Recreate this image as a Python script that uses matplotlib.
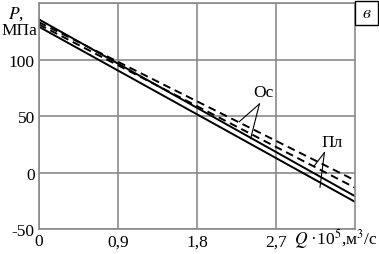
import matplotlib
matplotlib.use("Agg")
import matplotlib.pyplot as plt
from matplotlib.patches import Rectangle

# расход Q*10^5, м3/с  и давление P, МПа
q = [0.0, 3.6]
p_os_dash = [133.0, -7.0]
p_pl_dash = [131.0, -13.5]
p_os_solid = [135.5, -21.0]
p_pl_solid = [129.0, -26.0]

x_ticks = [0, 0.9, 1.8, 2.7]
x_tick_labels = ["0", "0,9", "1,8", "2,7"]
y_ticks = [-50, 0, 50, 100, 150]
y_tick_labels = ["-50", "0", "50", "100", ""]

plt.rcParams["font.family"] = ["Liberation Serif", "DejaVu Serif"]
plt.rcParams["mathtext.fontset"] = "stix"

fig = plt.figure(figsize=(3.79, 2.55), dpi=100)
ax = fig.add_axes([0.103, 0.098, 0.834, 0.886])

grid_col = "#8a8a8a"
fs = 12.5
ax.set_xlim(0, 3.6)
ax.set_ylim(-50, 150)
ax.set_xticks(x_ticks)
ax.set_xticklabels(x_tick_labels)
ax.set_yticks(y_ticks)
ax.set_yticklabels(y_tick_labels)
ax.tick_params(length=0, labelsize=fs, pad=3)
ax.grid(True, color=grid_col, linewidth=1.2)
for s in ax.spines.values():
    s.set_color(grid_col)
    s.set_linewidth(1.2)

ax.plot(q, p_os_dash, color="black", lw=1.4, ls=(0, (4, 2.5)))
ax.plot(q, p_pl_dash, color="black", lw=1.4, ls=(0, (4, 2.5)))
ax.plot(q, p_os_solid, color="black", lw=1.4)
ax.plot(q, p_pl_solid, color="black", lw=1.4)

# подписи кривых
ax.text(2.56, 71, "Ос", fontsize=fs, ha="center", va="center")
ax.plot([2.51, 2.28], [60.7, 45.0], color="black", lw=0.8)
ax.plot([2.51, 2.41], [60.7, 30.0], color="black", lw=0.8)
ax.text(3.34, 27, "Пл", fontsize=fs, ha="center", va="center")
ax.plot([3.25, 3.13], [17.6, 5.5], color="black", lw=0.8)
ax.plot([3.25, 3.20], [17.6, -13.0], color="black", lw=0.8)

# подписи осей
fig.text(0.022, 0.98, "$P$,", fontsize=fs, ha="left", va="top")
fig.text(0.003, 0.91, "МПа", fontsize=fs, ha="left", va="top")
fig.text(0.775, 0.015, "$Q$ ·10$^5$,м$^3$/с", fontsize=fs, ha="left", va="bottom")

# буква рисунка
fig.patches.append(Rectangle((355 / 379, 229 / 255), 23 / 379, 24 / 255,
                             transform=fig.transFigure, fc="white", ec="black",
                             lw=1.0, zorder=5))
fig.text(366.5 / 379, 241 / 255, "$\\mathit{в}$", fontsize=13, ha="center",
         va="center", zorder=6)

fig.savefig("out.png", dpi=100)
